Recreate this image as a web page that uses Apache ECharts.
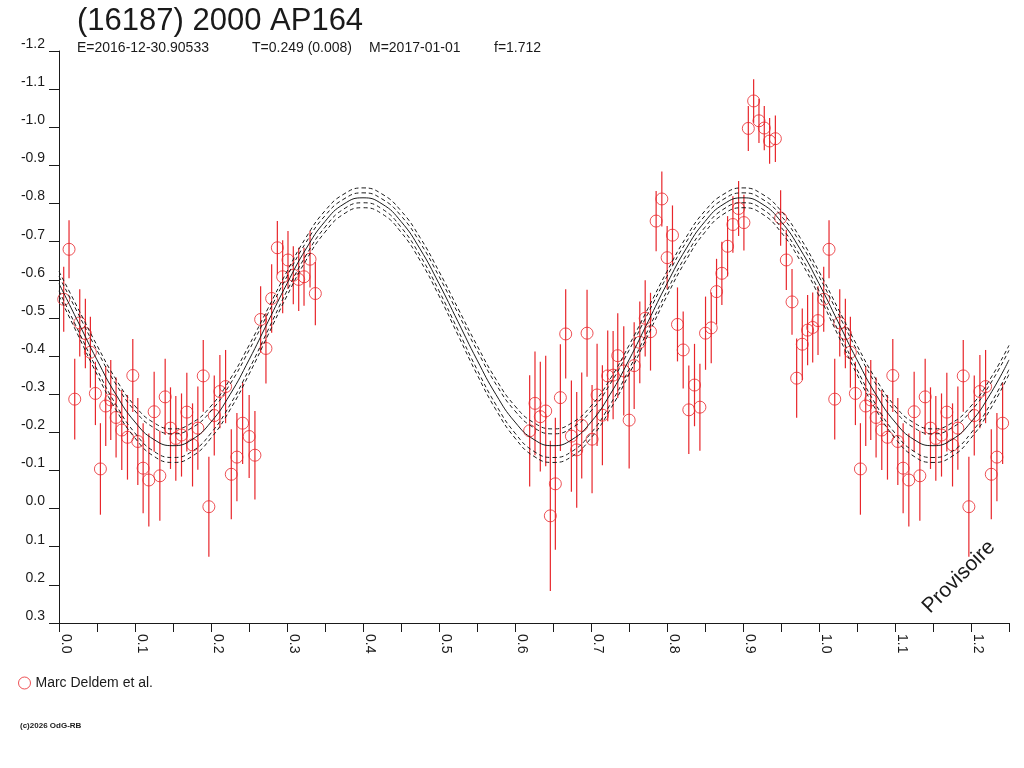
<!DOCTYPE html>
<html>
<head>
<meta charset="utf-8">
<title>(16187) 2000 AP164</title>
<script src="https://cdn.jsdelivr.net/npm/echarts@6/dist/echarts.min.js"></script>
<style>
  html, body { margin: 0; padding: 0; background: #fff; }
  #main { width: 1024px; height: 768px; }
</style>
</head>
<body>
<div id="main"></div>
<script>
'use strict';

// observations: phase, reduced magnitude, 1-sigma error
const obsPhase = [
  0.0062, 0.0132, 0.0207, 0.0273, 0.0347, 0.0413, 0.0479, 0.0545, 0.0615, 0.0681,
  0.0751, 0.0826, 0.0901, 0.0971, 0.1037, 0.1107, 0.1182, 0.1252, 0.1327, 0.1397,
  0.1467, 0.1537, 0.1612, 0.1682, 0.1757, 0.1827, 0.1898, 0.1972, 0.2043, 0.2117,
  0.2192, 0.2267, 0.2341, 0.2416, 0.2502, 0.2578, 0.2653, 0.2723, 0.2798, 0.2873,
  0.2943, 0.3013, 0.3083, 0.3154, 0.3224, 0.3303, 0.3373,
  0.6193, 0.6263, 0.6333, 0.6404, 0.6465, 0.6531, 0.6597, 0.6667, 0.6742, 0.6812,
  0.6878, 0.6948, 0.7014, 0.7080, 0.7150, 0.7220, 0.7291, 0.7352, 0.7431, 0.7502,
  0.7568, 0.7642, 0.7713, 0.7783, 0.7857, 0.7932, 0.8002, 0.8072, 0.8138, 0.8213,
  0.8287, 0.8362, 0.8433, 0.8507, 0.8582, 0.8652, 0.8722, 0.8797, 0.8867, 0.8942,
  0.9012, 0.9070, 0.9140, 0.9210, 0.9280, 0.9350, 0.9426, 0.9495, 0.9570, 0.9645,
  0.9706, 0.9780, 0.9850, 0.9917, 0.9987
];
const obsMag = [
  -0.549, -0.680, -0.287, -0.487, -0.459, -0.410, -0.302, -0.104, -0.269, -0.285,
  -0.239, -0.206, -0.187, -0.349, -0.176, -0.106, -0.075, -0.254, -0.086, -0.293,
  -0.211, -0.184, -0.193, -0.253, -0.167, -0.211, -0.348, -0.005, -0.244, -0.307,
  -0.320, -0.090, -0.135, -0.224, -0.189, -0.140, -0.496, -0.420, -0.551, -0.684,
  -0.608, -0.652, -0.612, -0.601, -0.608, -0.654, -0.564,
  -0.204, -0.276, -0.241, -0.256, 0.019, -0.065, -0.291, -0.458, -0.190, -0.154,
  -0.218, -0.460, -0.182, -0.298, -0.245, -0.348, -0.350, -0.401, -0.361, -0.232,
  -0.375, -0.436, -0.499, -0.464, -0.754, -0.812, -0.658, -0.717, -0.483, -0.416,
  -0.259, -0.324, -0.266, -0.460, -0.474, -0.569, -0.617, -0.688, -0.745, -0.787,
  -0.750, -0.997, -1.069, -1.017, -0.998, -0.964, -0.970, -0.762, -0.652, -0.542,
  -0.342, -0.431, -0.468, -0.475, -0.493
];
const obsErr = [
  0.085, 0.076, 0.106, 0.088, 0.091, 0.093, 0.083, 0.120, 0.105, 0.105,
  0.105, 0.105, 0.111, 0.096, 0.114, 0.118, 0.122, 0.105, 0.118, 0.100,
  0.107, 0.111, 0.109, 0.103, 0.109, 0.109, 0.094, 0.131, 0.105, 0.096,
  0.096, 0.118, 0.116, 0.107, 0.109, 0.116, 0.087, 0.092, 0.090, 0.070,
  0.096, 0.076, 0.076, 0.083, 0.076, 0.074, 0.083,
  0.146, 0.136, 0.144, 0.145, 0.197, 0.173, 0.140, 0.117, 0.146, 0.152,
  0.139, 0.114, 0.142, 0.134, 0.131, 0.119, 0.116, 0.111, 0.117, 0.127,
  0.114, 0.107, 0.100, 0.102, 0.079, 0.072, 0.083, 0.078, 0.097, 0.101,
  0.116, 0.108, 0.114, 0.096, 0.093, 0.086, 0.083, 0.079, 0.074, 0.072,
  0.073, 0.059, 0.057, 0.058, 0.058, 0.060, 0.061, 0.073, 0.079, 0.086,
  0.104, 0.094, 0.092, 0.092, 0.090
];

// fitted curve and its envelopes, one half-cycle (repeats every 0.5 in phase)
const fitPeriod = 0.5;
const fitPhase = [0, 0.025, 0.05, 0.075, 0.1, 0.125, 0.15, 0.175, 0.2, 0.225,
  0.25, 0.275, 0.3, 0.325, 0.35, 0.375, 0.4, 0.425, 0.45, 0.475];
const fitMid = [-0.590, -0.490, -0.390, -0.299, -0.227, -0.181, -0.165, -0.181, -0.227, -0.299,
  -0.390, -0.490, -0.590, -0.681, -0.753, -0.799, -0.815, -0.799, -0.753, -0.681];
const fitUpOuter = [-0.622, -0.525, -0.428, -0.339, -0.269, -0.225, -0.209, -0.225, -0.269, -0.339,
  -0.428, -0.525, -0.622, -0.711, -0.781, -0.825, -0.841, -0.825, -0.781, -0.711];
const fitUpInner = [-0.609, -0.512, -0.415, -0.326, -0.256, -0.212, -0.196, -0.212, -0.256, -0.326,
  -0.415, -0.512, -0.609, -0.698, -0.768, -0.812, -0.828, -0.812, -0.768, -0.698];
const fitLowInner = [-0.571, -0.468, -0.365, -0.272, -0.198, -0.150, -0.134, -0.150, -0.198, -0.272,
  -0.365, -0.468, -0.571, -0.664, -0.738, -0.786, -0.802, -0.786, -0.738, -0.664];
const fitLowOuter = [-0.558, -0.455, -0.352, -0.259, -0.185, -0.137, -0.121, -0.137, -0.185, -0.259,
  -0.352, -0.455, -0.558, -0.651, -0.725, -0.773, -0.789, -0.773, -0.725, -0.651];

const XMAX = 1.25;
const RED = '#e8262b';
const INK = '#1a1a1a';
const FONT = '"Liberation Sans", Arial, sans-serif';

// phase-folded plot: the start of the cycle is drawn again after 1.0
const points = [];
obsPhase.forEach(function(p, i) {
  points.push([p, obsMag[i], obsErr[i]]);
  if (p + 1 < XMAX) points.push([p + 1, obsMag[i], obsErr[i]]);
});

function fitLine(vals) {
  const out = [];
  for (let k = 0; k * fitPeriod <= XMAX; k++) {
    fitPhase.forEach(function(p, i) {
      const x = +(p + k * fitPeriod).toFixed(4);
      if (x <= XMAX) out.push([x, vals[i]]);
    });
  }
  return out;
}

function curve(vals, dashed) {
  return {
    type: 'line',
    data: fitLine(vals),
    smooth: true,
    symbol: 'none',
    silent: true,
    z: 4,
    lineStyle: {color: INK, width: 1, type: dashed ? [4, 3] : 'solid'}
  };
}

const myChart = echarts.init(document.getElementById('main'));

const option = {
  animation: false,
  textStyle: {fontFamily: FONT},
  grid: {left: 59, top: 51, width: 950, height: 572},
  legend: {
    left: 13,
    top: 671,
    itemWidth: 12,
    itemHeight: 12,
    selectedMode: false,
    textStyle: {fontSize: 14, color: INK, fontFamily: FONT},
    itemStyle: {color: 'transparent', borderColor: RED, borderWidth: 1},
    data: [{name: 'Marc Deldem et al.', icon: 'circle'}]
  },
  xAxis: {
    type: 'value',
    min: 0,
    max: XMAX,
    interval: 0.05,
    axisLine: {onZero: false, lineStyle: {color: INK, width: 1}},
    axisTick: {show: true, length: 9, lineStyle: {color: INK}},
    splitLine: {show: false},
    axisLabel: {
      rotate: -90,
      verticalAlign: 'bottom',
      margin: 11,
      fontSize: 14,
      color: INK,
      formatter: function(v) {
        const k = Math.round(v * 20);
        return k % 2 ? '' : (k / 20).toFixed(1);
      }
    }
  },
  yAxis: {
    type: 'value',
    inverse: true,
    min: -1.2,
    max: 0.3,
    interval: 0.1,
    axisLine: {show: true, onZero: false, lineStyle: {color: INK, width: 1}},
    axisTick: {show: true, length: 10, lineStyle: {color: INK}},
    splitLine: {show: false},
    axisLabel: {
      margin: 14,
      fontSize: 14,
      color: INK,
      verticalAlign: 'bottom',
      formatter: function(v) {
        return (Math.abs(v) < 1e-9 ? 0 : v).toFixed(1);
      }
    }
  },
  graphic: [
    {type: 'text', x: 77, y: 21, style: {text: '(16187) 2000 AP164', font: '31px ' + FONT, fill: INK, verticalAlign: 'middle'}},
    {type: 'text', x: 77, y: 48, style: {text: 'E=2016-12-30.90533', font: '14px ' + FONT, fill: INK, verticalAlign: 'middle'}},
    {type: 'text', x: 252, y: 48, style: {text: 'T=0.249 (0.008)', font: '14px ' + FONT, fill: INK, verticalAlign: 'middle'}},
    {type: 'text', x: 369, y: 48, style: {text: 'M=2017-01-01', font: '14px ' + FONT, fill: INK, verticalAlign: 'middle'}},
    {type: 'text', x: 494, y: 48, style: {text: 'f=1.712', font: '14px ' + FONT, fill: INK, verticalAlign: 'middle'}},
    {type: 'text', x: 959, y: 577, rotation: Math.PI / 4, style: {text: 'Provisoire', font: '21px ' + FONT, fill: INK, align: 'center', verticalAlign: 'middle'}},
    {type: 'text', x: 20, y: 726, style: {text: '(c)2026 OdG-RB', font: 'bold 8px ' + FONT, fill: INK, verticalAlign: 'middle'}}
  ],
  series: [
    {
      type: 'custom',
      name: 'errors',
      silent: true,
      z: 2,
      data: points.map(function(d) { return [d[0], d[1] - d[2], d[1] + d[2]]; }),
      encode: {x: 0, y: [1, 2]},
      renderItem: function(params, api) {
        const a = api.coord([api.value(0), api.value(1)]);
        const b = api.coord([api.value(0), api.value(2)]);
        return {
          type: 'line',
          shape: {x1: a[0], y1: a[1], x2: b[0], y2: b[1]},
          style: {stroke: RED, lineWidth: 1.2}
        };
      }
    },
    {
      type: 'scatter',
      name: 'Marc Deldem et al.',
      silent: true,
      z: 3,
      symbol: 'circle',
      symbolSize: 12,
      itemStyle: {color: 'transparent', borderColor: RED, borderWidth: 1},
      data: points.map(function(d) { return [d[0], d[1]]; })
    },
    curve(fitUpOuter, true),
    curve(fitUpInner, true),
    curve(fitMid, false),
    curve(fitLowInner, true),
    curve(fitLowOuter, true)
  ]
};

myChart.setOption(option);
</script>
</body>
</html>
